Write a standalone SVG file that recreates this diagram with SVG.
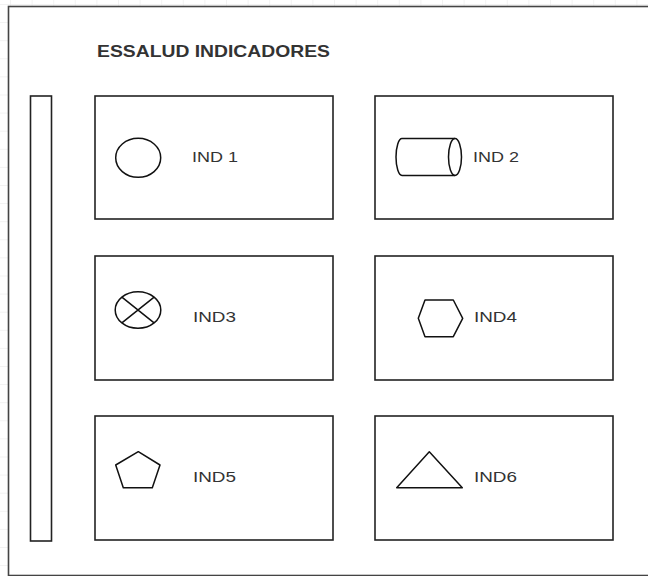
<svg xmlns="http://www.w3.org/2000/svg" width="648" height="576" viewBox="0 0 648 576">
<defs>
<pattern id="grid" x="10" y="4" width="21.6" height="18.1" patternUnits="userSpaceOnUse">
<path d="M0 0V18.1M0 0H21.6" fill="none" stroke="#e6e6e6" stroke-width="1"/>
</pattern>
</defs>
<style>
.box{fill:#fff;stroke:#222;stroke-width:1.6}
.shape{fill:none;stroke:#111;stroke-width:1.5;stroke-linejoin:round}
.lbl{font-family:"Liberation Sans",Arial,sans-serif;font-size:14.5px;fill:#333}
.title{font-family:"Liberation Sans",Arial,sans-serif;font-size:16.5px;font-weight:bold;fill:#333}
</style>
<rect x="0" y="0" width="648" height="576" fill="#fff"/>
<rect x="0" y="0" width="648" height="576" fill="url(#grid)"/>
<g id="container">
<rect x="8.5" y="6.5" width="660" height="569" fill="#fff" stroke="#444" stroke-width="1.6"/>
<text class="title" x="97" y="57" textLength="233" lengthAdjust="spacingAndGlyphs">ESSALUD INDICADORES</text>
</g>
<g id="sidebar">
<rect class="box" x="30.5" y="96" width="21" height="445"/>
</g>
<g id="ind1">
<rect class="box" x="95" y="96" width="238" height="123"/>
<ellipse class="shape" cx="138.2" cy="157.8" rx="22.5" ry="19.5"/>
<text class="lbl" x="192" y="161.5" textLength="46" lengthAdjust="spacingAndGlyphs">IND 1</text>
</g>
<g id="ind2">
<rect class="box" x="375" y="96" width="238" height="123"/>
<path class="shape" d="M402 138.5H455M402 175.5H455M402 138.5A6 18.5 0 0 0 402 175.5"/>
<ellipse class="shape" cx="455" cy="157" rx="6.5" ry="18.5"/>
<text class="lbl" x="473" y="161.5" textLength="46" lengthAdjust="spacingAndGlyphs">IND 2</text>
</g>
<g id="ind3">
<rect class="box" x="95" y="256" width="238" height="124"/>
<ellipse class="shape" cx="138" cy="310" rx="22.8" ry="18.3"/>
<path class="shape" d="M121.9 297.1L154.1 322.9M154.1 297.1L121.9 322.9"/>
<text class="lbl" x="193" y="321.5" textLength="43" lengthAdjust="spacingAndGlyphs">IND3</text>
</g>
<g id="ind4">
<rect class="box" x="375" y="256" width="238" height="124"/>
<polygon class="shape" points="425,300 453.3,300 462.7,318.3 453.3,336.7 425,336.7 418.3,318.3"/>
<text class="lbl" x="474" y="321.5" textLength="43" lengthAdjust="spacingAndGlyphs">IND4</text>
</g>
<g id="ind5">
<rect class="box" x="95" y="416" width="238" height="124"/>
<polygon class="shape" points="138.3,451.7 160,465 152.3,487.7 123.3,487.7 115.7,465"/>
<text class="lbl" x="193" y="481.5" textLength="43" lengthAdjust="spacingAndGlyphs">IND5</text>
</g>
<g id="ind6">
<rect class="box" x="375" y="416" width="238" height="124"/>
<polygon class="shape" points="429.3,451.7 462.3,487.7 396.7,487.7"/>
<text class="lbl" x="474" y="481.5" textLength="43" lengthAdjust="spacingAndGlyphs">IND6</text>
</g>
<g id="connectors"></g>
</svg>
